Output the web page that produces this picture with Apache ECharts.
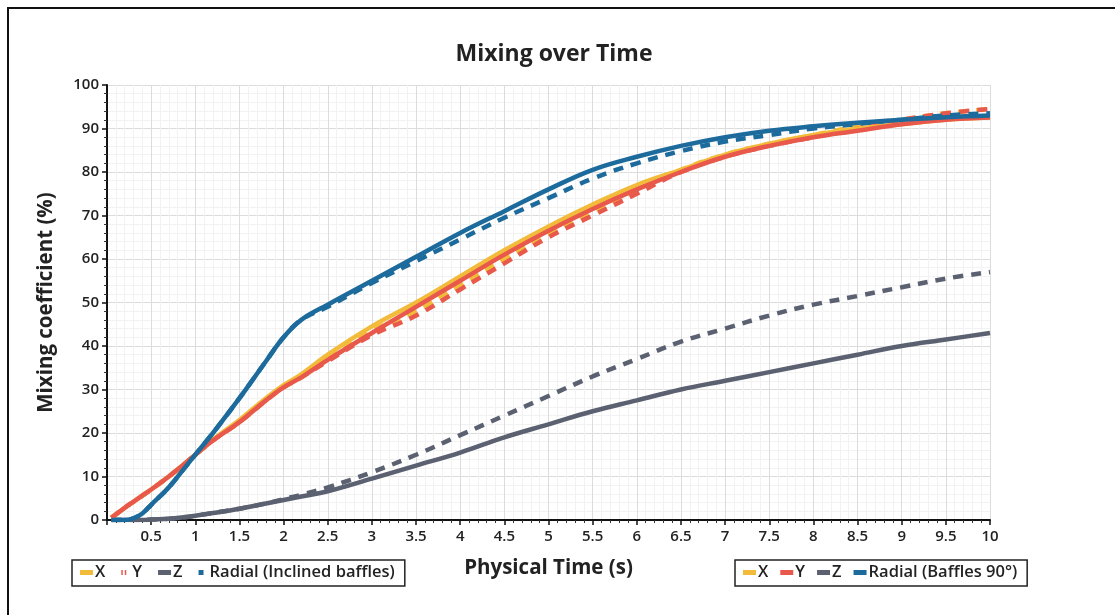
<!DOCTYPE html>
<html><head><meta charset="utf-8">
<script src="https://cdn.jsdelivr.net/npm/echarts@6/dist/echarts.min.js"></script>
<style>html,body{margin:0;padding:0;background:#fff}#c{width:1115px;height:615px}</style>
</head><body><div id="c"></div>
<script>
var times = [0.05,0.2,0.3,0.4,0.5,0.7,0.9,1,1.2,1.5,1.8,2,2.2,2.5,3,3.5,4,4.5,5,5.5,6,6.5,7,7.5,8,8.5,9,9.5,10];
// Baffles 90° (solid)
var x90      = [0.5,2.8,4.2,5.6,7,10,13.3,15,18.5,23,28,31,33.5,38,44.5,50,56,62,67.5,72.5,77,80.5,84,86.5,88.5,90,91,92,92.5];
var y90      = [0.5,2.8,4.2,5.6,7,10,13.3,15,18.3,22.5,27.5,30.5,32.8,36.8,43,49,55,61,66.5,71.5,76,80,83.5,86,88,89.5,91,92,92.5];
var z90      = [0,0,0,0,0.1,0.3,0.7,1,1.6,2.6,3.8,4.6,5.4,6.6,9.5,12.5,15.5,19,22,25,27.5,30,32,34,36,38,40,41.5,43];
var r90      = [0,0,0.4,1.5,3.5,7.5,12.5,15,20,28,36.5,42,46,49.5,55,60.5,66,71,76,80.5,83.5,86,88,89.5,90.5,91.3,92,92.6,93];
// Inclined baffles (dashed)
var xInc     = [0.5,2.8,4.2,5.6,7,10,13.3,15,18.3,22.5,27.5,30.5,32.8,37,43.5,48,54,60,66,71,76,80.5,84,86.5,88.5,90.5,92,93.5,94.5];
var yInc     = [0.5,2.8,4.2,5.6,7,10,13.3,15,18.3,22.5,27.5,30.5,32.8,36.5,42.5,47,53,59,65,70,75,80,83.5,86,88,90,92,93.5,94.5];
var zInc     = [0,0,0,0,0.1,0.3,0.7,1,1.6,2.6,3.8,4.8,5.8,7.5,11,15,19.5,24,28.5,33,37,41,44,47,49.5,51.5,53.5,55.5,57];
var rInc     = [0,0,0.4,1.5,3.5,7.5,12.5,15,20,28,36.5,42,46,49,54.5,59.5,64.5,69.5,74,78.5,82,84.8,87,88.5,90,91,92,93,93.5];
var xTicks = [0.5,1,1.5,2,2.5,3,3.5,4,4.5,5,5.5,6,6.5,7,7.5,8,8.5,9,9.5,10];

var C = {x:'#f2bb3a', y:'#e8594b', z:'#5b6170', r:'#1c6b9c'};
function pts(v){ return times.map(function(t,i){ return [t, v[i]]; }); }
function ser(name, v, color, dashed){
  return {name:name, type:'line', data:pts(v), smooth:0.4, showSymbol:false, symbol:'none',
    lineStyle:{color:color, width:4.5, type: dashed ? [10,8] : 'solid', cap:'butt'},
    itemStyle:{color:color}, emphasis:{disabled:true}, z: dashed?2:3};
}
var labelMap = {'X (inc)':'X','Y (inc)':'Y','Z (inc)':'Z','Radial (inc)':'Radial (Inclined baffles)',
  'X (90)':'X','Y (90)':'Y','Z (90)':'Z','Radial (90)':'Radial (Baffles 90°)'};
var legendBase = {
  orient:'horizontal', top:560, itemWidth:13, itemHeight:5, itemGap:16,
  borderColor:'#222', borderWidth:1.5, padding:[4,10,5,8], backgroundColor:'#fff',
  textStyle:{fontFamily:'Open Sans', fontWeight:600, fontSize:16.5, color:'#222', padding:[0,0,0,-3]},
  formatter:function(n){ return labelMap[n]; }, selectedMode:false
};
var chart = echarts.init(document.getElementById('c'), null, {renderer:'canvas'});
chart.setOption({
  backgroundColor:'#fff',
  animation:false,
  title:{text:'Mixing over Time', left:549, top:38, textAlign:'center',
    textStyle:{fontFamily:'Open Sans', fontWeight:'bold', fontSize:23, color:'#222'}},
  graphic:[{type:'rect', shape:{x:8,y:8,width:1130,height:640}, style:{fill:'none', stroke:'#111', lineWidth:2}, z:-10}],
  legend:[
    Object.assign({}, legendBase, {left:72, data:[
      {name:'X (inc)', icon:'rect'},
      {name:'Y (inc)', icon:'path://M0,0 L3,0 L3,10 L0,10 Z M7,0 L10,0 L10,10 L7,10 Z'},
      {name:'Z (inc)', icon:'rect'},
      {name:'Radial (inc)', icon:'path://M0,0 L10,0 L10,10 L0,10 Z'}]}),
    Object.assign({}, legendBase, {left:735, itemGap:12, data:[
      {name:'X (90)', icon:'rect'},{name:'Y (90)', icon:'rect'},{name:'Z (90)', icon:'rect'},{name:'Radial (90)', icon:'rect'}]})
  ],
  grid:{left:107, right:125, top:85, bottom:95},
  xAxis:{type:'value', min:0, max:10, interval:0.5,
    name:'Physical Time (s)', nameLocation:'middle', nameGap:38,
    nameTextStyle:{fontFamily:'Open Sans', fontWeight:'bold', fontSize:20.5, color:'#222'},
    axisLine:{show:true, onZero:false, lineStyle:{color:'#111', width:2}},
    axisTick:{show:true, length:5, lineStyle:{color:'#111', width:1.5}},
    minorTick:{show:true, splitNumber:5, length:3, lineStyle:{color:'#333'}},
    splitLine:{show:true, lineStyle:{color:'#dcdcdc', width:1}},
    minorSplitLine:{show:true, lineStyle:{color:'#f2f2f2', width:1}},
    axisLabel:{showMinLabel:false, margin:9, fontFamily:'Open Sans', fontWeight:600, fontSize:15, color:'#222',
      formatter:function(v){ return xTicks.indexOf(v) >= 0 ? String(v) : ''; }}
  },
  yAxis:{type:'value', min:0, max:100, interval:10,
    name:'Mixing coefficient (%)', nameLocation:'middle', nameGap:50, nameRotate:90,
    nameTextStyle:{fontFamily:'Open Sans', fontWeight:'bold', fontSize:20.5, color:'#222'},
    axisLine:{show:true, lineStyle:{color:'#111', width:2}},
    axisTick:{show:true, length:5, lineStyle:{color:'#111', width:1.5}},
    minorTick:{show:true, splitNumber:5, length:3, lineStyle:{color:'#333'}},
    splitLine:{show:true, lineStyle:{color:'#dcdcdc', width:1}},
    minorSplitLine:{show:true, lineStyle:{color:'#f2f2f2', width:1}},
    axisLabel:{margin:8, fontFamily:'Open Sans', fontWeight:600, fontSize:15, color:'#222'}
  },
  series:[
    ser('Z (inc)', zInc, C.z, true),
    ser('Z (90)', z90, C.z, false),
    ser('X (inc)', xInc, C.x, true),
    ser('Y (inc)', yInc, C.y, true),
    ser('X (90)', x90, C.x, false),
    ser('Y (90)', y90, C.y, false),
    ser('Radial (inc)', rInc, C.r, true),
    ser('Radial (90)', r90, C.r, false)
  ]
});
</script></body></html>
